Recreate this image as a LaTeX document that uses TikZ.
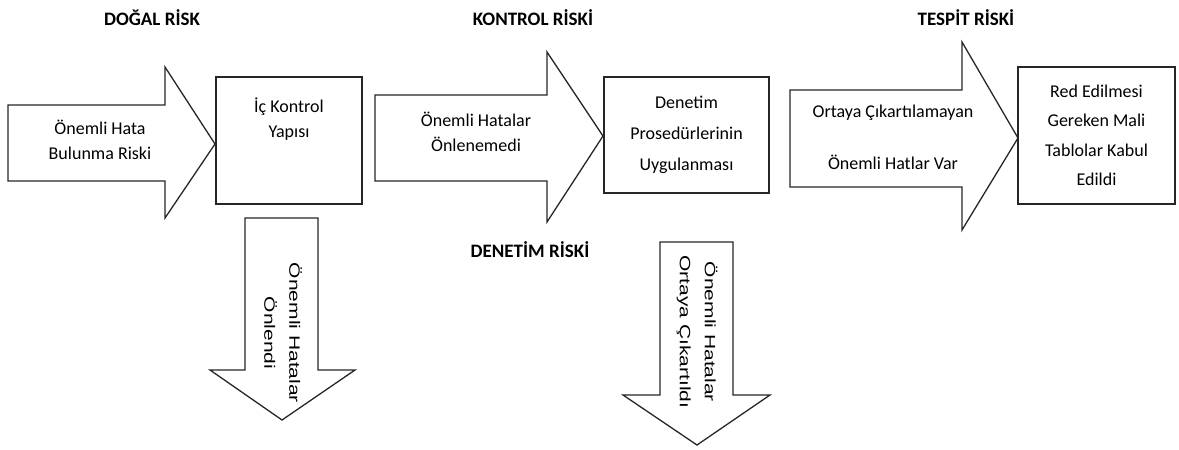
\documentclass[tikz,border=0pt]{standalone}
\usepackage{fontspec}
\setmainfont{Carlito}
\newfontfamily\dikfont{Liberation Sans}[FakeStretch=1.4]
\usepackage{tikz}

\begin{document}
\begin{tikzpicture}[x=1pt,y=-1pt,
		blok/.style={draw=black!85, line width=1.3pt, line join=miter},
		kutu/.style={shape=rectangle, draw=black!85, line width=1.3pt, align=center, font=\fontsize{18}{26}\selectfont},
		yazi/.style={align=center, font=\fontsize{18}{25}\selectfont},
		dikyazi/.style={align=center, rotate=-90, font=\dikfont\fontsize{15}{25}\selectfont},
		baslik/.style={font=\fontsize{19}{20}\selectfont\bfseries}]
			\useasboundingbox (0,0) rectangle (1179,450);
			
			% basliklar
			\node[baslik] (dogal) at (152,18) {DOĞAL RİSK};
			\node[baslik] (kontrol) at (533,18) {KONTROL RİSKİ};
			\node[baslik] (tespit) at (966,18) {TESPİT RİSKİ};
			\node[baslik] (denetim) at (530,250) {DENETİM RİSKİ};
			
			% oklar
			\draw[blok] (8,105) -- (165,105) -- (165,67) -- (215,144) -- (165,218) -- (165,181) -- (8,181) -- cycle;
			\draw[blok] (375,95) -- (547,95) -- (547,52) -- (603,136) -- (547,222) -- (547,181) -- (375,181) -- cycle;
			\draw[blok] (790,90) -- (962,90) -- (962,42) -- (1018,138) -- (962,230) -- (962,187) -- (790,187) -- cycle;
			\draw[blok] (245,218) -- (318,218) -- (318,370) -- (355,370) -- (282,420) -- (210,370) -- (245,370) -- cycle;
			\draw[blok] (660,242) -- (733,242) -- (733,395) -- (770,395) -- (697,445) -- (623,395) -- (660,395) -- cycle;
			
			\node[yazi] (hata) at (100,140) {Önemli Hata\\Bulunma Riski};
			\node[yazi] (onlenemedi) at (476,132) {Önemli Hatalar\\Önlenemedi};
			\node[yazi] (ortaya) at (893,137) {Ortaya Çıkartılamayan\\[27pt]Önemli Hatlar Var};
			\node[dikyazi] (onlendi) at (283,333) {Önemli Hatalar\\Önlendi};
			\node[dikyazi] (cikartildi) at (697,332) {Önemli Hatalar\\Ortaya Çıkartıldı};
			
			% kutular
			\node[kutu, minimum width=146pt, minimum height=127pt] (ickontrol) at (289,140.5) {};
			\node[yazi] (yapi) at (289,119) {İç Kontrol\\Yapısı};
			\node[kutu, minimum width=165pt, minimum height=116pt, font=\fontsize{18}{31}\selectfont] (prosedur) at (686.5,135) {Denetim\\Prosedürlerinin\\Uygulanması};
			\node[kutu, minimum width=157pt, minimum height=137pt, font=\fontsize{18}{29.5}\selectfont] (red) at (1096.5,135.5) {Red Edilmesi\\Gereken Mali\\Tablolar Kabul\\Edildi};
			\end{tikzpicture}
\end{document}
